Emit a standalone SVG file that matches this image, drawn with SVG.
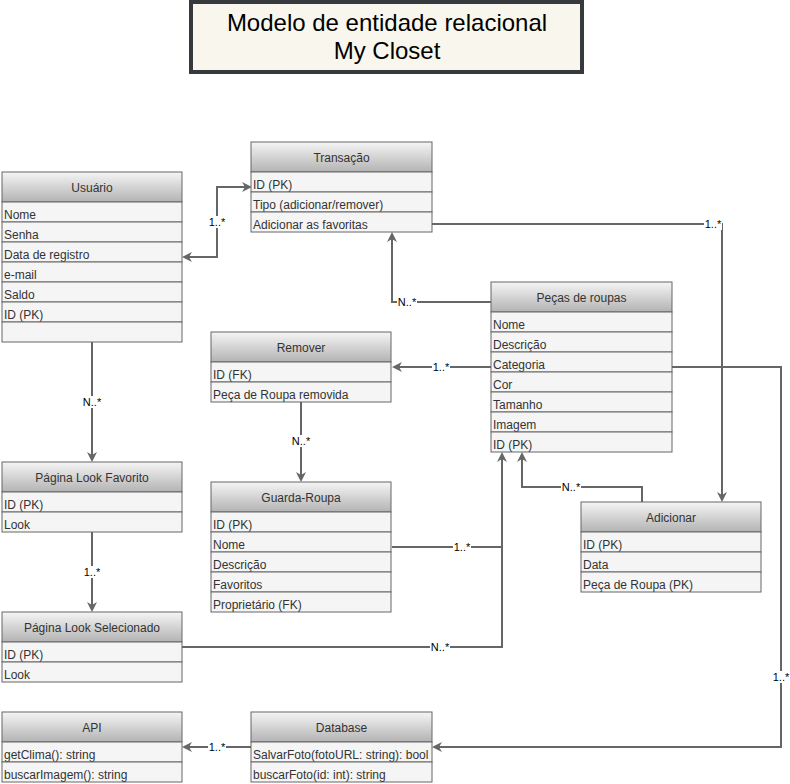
<svg xmlns="http://www.w3.org/2000/svg" width="790" height="784" viewBox="0 0 790 784">
<defs>
<linearGradient id="hg" x1="0" y1="0" x2="0" y2="1">
<stop offset="0" stop-color="#f5f5f5"/>
<stop offset="1" stop-color="#b3b3b3"/>
</linearGradient>
<marker id="ar" markerWidth="12" markerHeight="12" refX="6" refY="5" orient="auto-start-reverse" markerUnits="userSpaceOnUse">
<path d="M0,0 L10,5 L0,10 L3,5 Z" fill="#666666"/>
</marker>
</defs>
<style>
.hdr{fill:url(#hg);stroke:#666666;stroke-width:1}
.row{fill:#f5f5f5;stroke:#666666;stroke-width:1}
.ht{font-family:"Liberation Sans",Arial,sans-serif;font-size:12px;fill:#333333;text-anchor:middle}
.rt{font-family:"Liberation Sans",Arial,sans-serif;font-size:12px;fill:#333333}
.c{fill:none;stroke:#666666;stroke-width:2}
.lb{font-family:"Liberation Sans",Arial,sans-serif;font-size:11px;fill:#000000;text-anchor:middle}
.lbg{fill:#ffffff}
.title{font-family:"Liberation Sans",Arial,sans-serif;font-size:24px;fill:#000000;text-anchor:middle}
</style>
<rect width="790" height="784" fill="#ffffff"/>

<g id="title">
<rect x="191" y="2" width="391" height="70" fill="#f9f7ed" stroke="#36393d" stroke-width="4"/>
<text class="title" x="387" y="31">Modelo de entidade relacional</text>
<text class="title" x="387" y="59">My Closet</text>
</g>

<g id="connectors">
<path class="c" d="M248,187 L217,187 L217,257 L186,257" marker-start="url(#ar)" marker-end="url(#ar)"/>
<path class="c" d="M491,302 L392,302 L392,236" marker-end="url(#ar)"/>
<path class="c" d="M432,224 L722,224 L722,498" marker-end="url(#ar)"/>
<path class="c" d="M491,367 L396,367" marker-end="url(#ar)"/>
<path class="c" d="M672,367 L781,367 L781,747 L436,747" marker-end="url(#ar)"/>
<path class="c" d="M301,402 L301,478" marker-end="url(#ar)"/>
<path class="c" d="M92,342 L92,458" marker-end="url(#ar)"/>
<path class="c" d="M92,532 L92,608" marker-end="url(#ar)"/>
<path class="c" d="M392,547 L502,547 L502,456" marker-end="url(#ar)"/>
<path class="c" d="M182,647 L502,647 L502,547"/>
<path class="c" d="M642,502 L642,487 L522,487 L522,456" marker-end="url(#ar)"/>
<path class="c" d="M251,747 L186,747" marker-end="url(#ar)"/>

<rect class="lbg" x="208" y="216" width="18" height="12"/><text class="lb" x="217" y="226">1..*</text>
<rect class="lbg" x="397" y="296" width="20" height="12"/><text class="lb" x="407" y="306">N..*</text>
<rect class="lbg" x="704" y="218" width="18" height="12"/><text class="lb" x="713" y="228">1..*</text>
<rect class="lbg" x="432" y="361" width="18" height="12"/><text class="lb" x="441" y="371">1..*</text>
<rect class="lbg" x="772" y="671" width="18" height="12"/><text class="lb" x="781" y="681">1..*</text>
<rect class="lbg" x="291" y="435" width="20" height="12"/><text class="lb" x="301" y="445">N..*</text>
<rect class="lbg" x="82" y="396" width="20" height="12"/><text class="lb" x="92" y="406">N..*</text>
<rect class="lbg" x="83" y="566" width="18" height="12"/><text class="lb" x="92" y="576">1..*</text>
<rect class="lbg" x="453" y="541" width="18" height="12"/><text class="lb" x="462" y="551">1..*</text>
<rect class="lbg" x="430" y="641" width="20" height="12"/><text class="lb" x="440" y="651">N..*</text>
<rect class="lbg" x="561" y="481" width="20" height="12"/><text class="lb" x="571" y="491">N..*</text>
<rect class="lbg" x="208" y="741" width="18" height="12"/><text class="lb" x="217" y="751">1..*</text>
</g>

<g id="usuario">
<rect class="hdr" x="2" y="172" width="180" height="30"/>
<text class="ht" x="92" y="192">Usuário</text>
<rect class="row" x="2" y="202" width="180" height="20"/><text class="rt" x="4" y="219">Nome</text>
<rect class="row" x="2" y="222" width="180" height="20"/><text class="rt" x="4" y="239">Senha</text>
<rect class="row" x="2" y="242" width="180" height="20"/><text class="rt" x="4" y="259">Data de registro</text>
<rect class="row" x="2" y="262" width="180" height="20"/><text class="rt" x="4" y="279">e-mail</text>
<rect class="row" x="2" y="282" width="180" height="20"/><text class="rt" x="4" y="299">Saldo</text>
<rect class="row" x="2" y="302" width="180" height="20"/><text class="rt" x="4" y="319">ID (PK)</text>
<rect class="row" x="2" y="322" width="180" height="20"/>
</g>

<g id="transacao">
<rect class="hdr" x="251" y="142" width="181" height="30"/>
<text class="ht" x="341.5" y="162">Transação</text>
<rect class="row" x="251" y="172" width="181" height="20"/><text class="rt" x="253" y="189">ID (PK)</text>
<rect class="row" x="251" y="192" width="181" height="20"/><text class="rt" x="253" y="209">Tipo (adicionar/remover)</text>
<rect class="row" x="251" y="212" width="181" height="20"/><text class="rt" x="253" y="229">Adicionar as favoritas</text>
</g>

<g id="pecas">
<rect class="hdr" x="491" y="282" width="181" height="30"/>
<text class="ht" x="581.5" y="302">Peças de roupas</text>
<rect class="row" x="491" y="312" width="181" height="20"/><text class="rt" x="493" y="329">Nome</text>
<rect class="row" x="491" y="332" width="181" height="20"/><text class="rt" x="493" y="349">Descrição</text>
<rect class="row" x="491" y="352" width="181" height="20"/><text class="rt" x="493" y="369">Categoria</text>
<rect class="row" x="491" y="372" width="181" height="20"/><text class="rt" x="493" y="389">Cor</text>
<rect class="row" x="491" y="392" width="181" height="20"/><text class="rt" x="493" y="409">Tamanho</text>
<rect class="row" x="491" y="412" width="181" height="20"/><text class="rt" x="493" y="429">Imagem</text>
<rect class="row" x="491" y="432" width="181" height="20"/><text class="rt" x="493" y="449">ID (PK)</text>
</g>

<g id="remover">
<rect class="hdr" x="211" y="332" width="180" height="30"/>
<text class="ht" x="301" y="352">Remover</text>
<rect class="row" x="211" y="362" width="180" height="20"/><text class="rt" x="213" y="379">ID (FK)</text>
<rect class="row" x="211" y="382" width="180" height="20"/><text class="rt" x="213" y="399">Peça de Roupa removida</text>
</g>

<g id="guarda-roupa">
<rect class="hdr" x="211" y="482" width="180" height="30"/>
<text class="ht" x="301" y="502">Guarda-Roupa</text>
<rect class="row" x="211" y="512" width="180" height="20"/><text class="rt" x="213" y="529">ID (PK)</text>
<rect class="row" x="211" y="532" width="180" height="20"/><text class="rt" x="213" y="549">Nome</text>
<rect class="row" x="211" y="552" width="180" height="20"/><text class="rt" x="213" y="569">Descrição</text>
<rect class="row" x="211" y="572" width="180" height="20"/><text class="rt" x="213" y="589">Favoritos</text>
<rect class="row" x="211" y="592" width="180" height="20"/><text class="rt" x="213" y="609">Proprietário (FK)</text>
</g>

<g id="adicionar">
<rect class="hdr" x="581" y="502" width="180" height="30"/>
<text class="ht" x="671" y="522">Adicionar</text>
<rect class="row" x="581" y="532" width="180" height="20"/><text class="rt" x="583" y="549">ID (PK)</text>
<rect class="row" x="581" y="552" width="180" height="20"/><text class="rt" x="583" y="569">Data</text>
<rect class="row" x="581" y="572" width="180" height="20"/><text class="rt" x="583" y="589">Peça de Roupa (PK)</text>
</g>

<g id="pagina-look-favorito">
<rect class="hdr" x="2" y="462" width="180" height="30"/>
<text class="ht" x="92" y="482">Página Look Favorito</text>
<rect class="row" x="2" y="492" width="180" height="20"/><text class="rt" x="4" y="509">ID (PK)</text>
<rect class="row" x="2" y="512" width="180" height="20"/><text class="rt" x="4" y="529">Look</text>
</g>

<g id="pagina-look-selecionado">
<rect class="hdr" x="2" y="612" width="180" height="30"/>
<text class="ht" x="92" y="632">Página Look Selecionado</text>
<rect class="row" x="2" y="642" width="180" height="20"/><text class="rt" x="4" y="659">ID (PK)</text>
<rect class="row" x="2" y="662" width="180" height="20"/><text class="rt" x="4" y="679">Look</text>
</g>

<g id="api">
<rect class="hdr" x="2" y="712" width="180" height="30"/>
<text class="ht" x="92" y="732">API</text>
<rect class="row" x="2" y="742" width="180" height="20"/><text class="rt" x="4" y="759">getClima(): string</text>
<rect class="row" x="2" y="762" width="180" height="20"/><text class="rt" x="4" y="779">buscarImagem(): string</text>
</g>

<g id="database">
<rect class="hdr" x="251" y="712" width="181" height="30"/>
<text class="ht" x="341.5" y="732">Database</text>
<rect class="row" x="251" y="742" width="181" height="20"/><text class="rt" x="253" y="759">SalvarFoto(fotoURL: string): bool</text>
<rect class="row" x="251" y="762" width="181" height="20"/><text class="rt" x="253" y="779">buscarFoto(id: int): string</text>
</g>
</svg>
